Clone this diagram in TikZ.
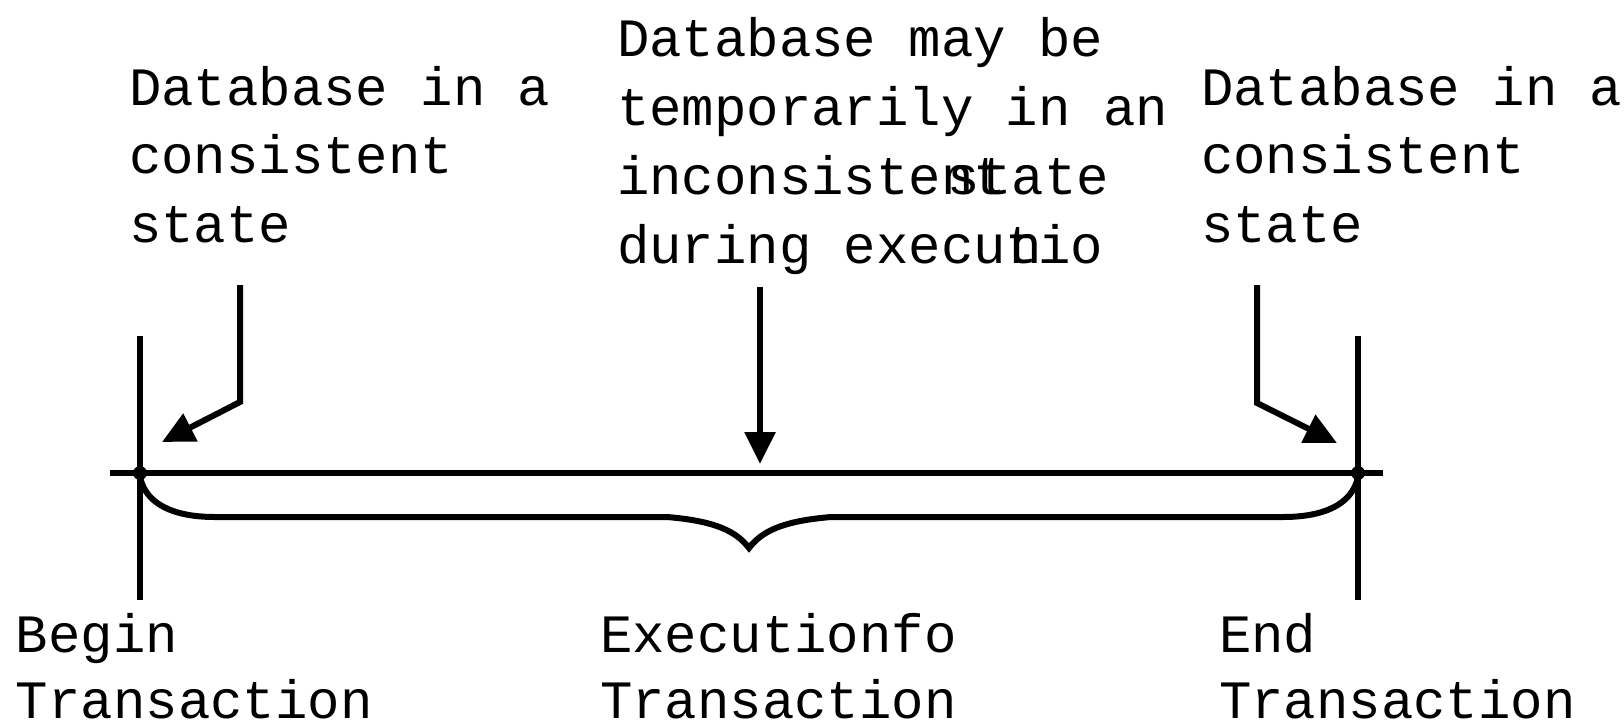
\documentclass[tikz,border=0pt]{standalone}
\usepackage{fontspec}
\setmonofont{Liberation Mono}
\usetikzlibrary{arrows.meta}

\begin{document}
\begin{tikzpicture}[x=1pt,y=-1pt,line width=6pt,
  txt/.style={font=\ttfamily\fontsize{54}{54}\selectfont, inner sep=0pt, anchor=base west},
  tip/.style={-{Triangle[length=32pt,width=30pt]}}]
\useasboundingbox (0,0) rectangle (1624,726);
% labels on top
\node[txt] (l1) at (126,105) {Database in a};
\node[txt] (l2) at (126,173) {consistent};
\node[txt] (l3) at (126,242) {state};
\node[txt] (m1) at (614,56) {Database may be};
\node[txt] (m2) at (614,125) {temporarily in an};
\node[txt] (m3) at (614,194) {inconsistent};
\node[txt] (m3b) at (944,194) {state};
\node[txt] (m4) at (614,263) {during executio};
\node[txt] (m4b) at (1006,263) {n};
\node[txt] (r1) at (1198,105) {Database in a};
\node[txt] (r2) at (1198,173) {consistent};
\node[txt] (r3) at (1198,242) {state};
% labels below
\node[txt] (b1) at (13,652) {Begin};
\node[txt] (b2) at (13,718) {Transaction};
\node[txt] (x1) at (597,652) {Executionfo};
\node[txt] (x2) at (597,718) {Transaction};
\node[txt] (e1) at (1216,652) {End};
\node[txt] (e2) at (1216,718) {Transaction};
% time line
\coordinate (start) at (140,473);
\coordinate (stop) at (1358,473);
\coordinate (lineL) at (110,473);
\coordinate (lineR) at (1383,473);
\coordinate (startT) at (140,336);
\coordinate (startB) at (140,600);
\coordinate (stopT) at (1358,336);
\coordinate (stopB) at (1358,600);
\draw (lineL) -- (lineR);
\draw (startT) -- (startB);
\draw (stopT) -- (stopB);
\fill (start) circle (7pt);
\fill (stop) circle (7pt);
% brace
\coordinate (braceL) at (215,517);
\coordinate (braceM) at (749,548);
\coordinate (braceR) at (1283,517);
\draw (140,477) .. controls (146,505) and (175,517) .. (braceL) -- (667,517)
  .. controls (715,521) and (736,531) .. (braceM)
  .. controls (762,531) and (783,521) .. (831,517) -- (braceR)
  .. controls (1323,517) and (1352,505) .. (1358,477);
% arrows
\coordinate (la0) at (240,285);
\coordinate (la1) at (240,402);
\coordinate (la2) at (162,442);
\coordinate (ma0) at (760,287);
\coordinate (ma1) at (760,464);
\coordinate (ra0) at (1257,285);
\coordinate (ra1) at (1257,403);
\coordinate (ra2) at (1337,443);
\draw[tip] (la0) -- (la1) -- (la2);
\draw[tip] (ma0) -- (ma1);
\draw[tip] (ra0) -- (ra1) -- (ra2);
\end{tikzpicture}
\end{document}
